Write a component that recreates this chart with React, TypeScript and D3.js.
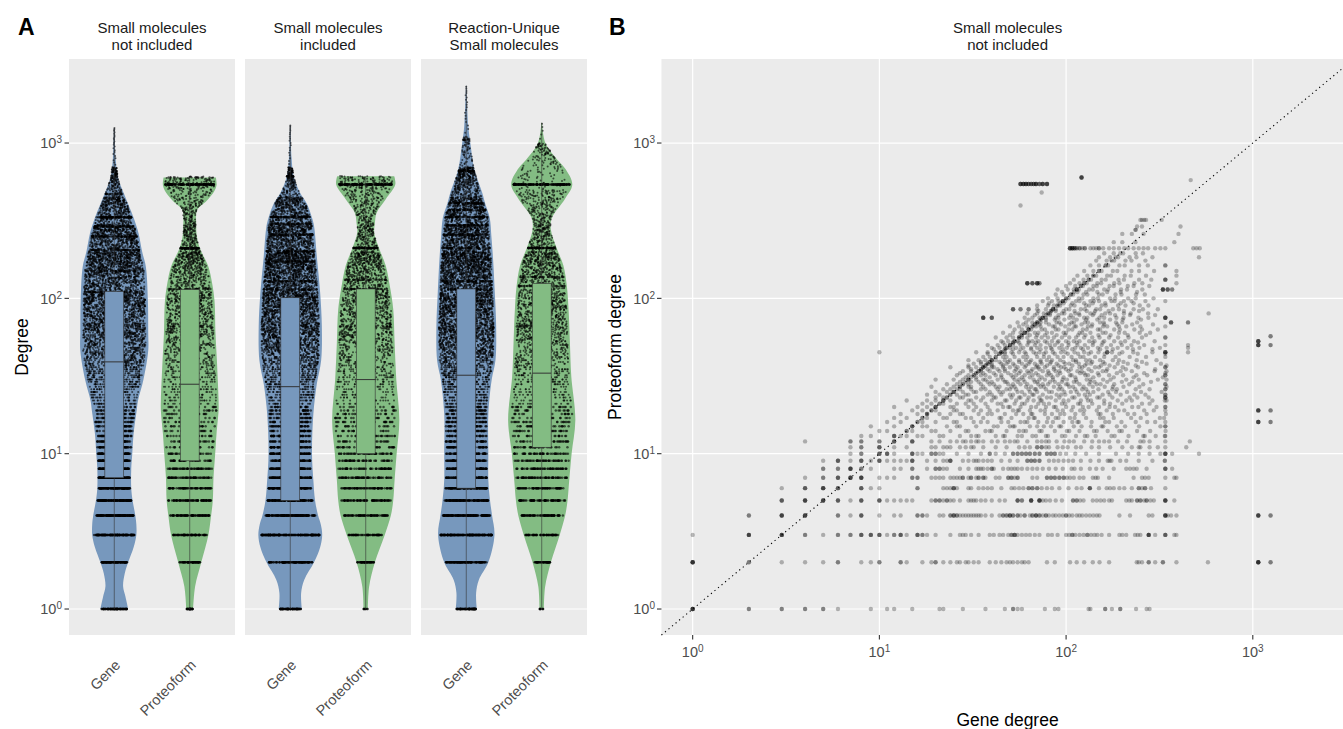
import React, { useEffect } from 'react';
import * as d3 from 'd3';

const facetTitles = [['Small molecules', 'not included'], ['Small molecules', 'included'], ['Reaction-Unique', 'Small molecules']];
const entityTypes = ['Gene', 'Proteoform'];
const degreeTicks = [1, 10, 100, 1000];
const tickExponents = ['0', '1', '2', '3'];
const scatterTitle = ['Small molecules', 'not included'];

// violin outlines: [degree, half width as share of the full violin width]
const violinGene1 = [[1, 0.41], [1.2, 0.33], [1.4, 0.26], [1.7, 0.31], [2, 0.41], [2.5, 0.57], [3, 0.65], [3.5, 0.65], [4, 0.62], [5, 0.54], [6, 0.5], [8, 0.5], [10, 0.53], [13.5, 0.57], [19, 0.66], [22, 0.7], [30, 0.86], [46, 1.0], [60, 1.0], [96, 0.99], [160, 0.93], [200, 0.82], [260, 0.72], [330, 0.57], [470, 0.29], [600, 0.11], [800, 0.04], [1250, 0.01]];
const violinProt1 = [[1, 0.1], [1.4, 0.16], [2, 0.34], [3, 0.55], [4, 0.63], [5, 0.68], [7, 0.7], [10, 0.75], [13.5, 0.79], [19, 0.85], [22, 0.85], [40, 0.8], [59, 0.76], [96, 0.73], [125, 0.66], [160, 0.55], [210, 0.3], [250, 0.21], [300, 0.19], [370, 0.22], [425, 0.5], [480, 0.7], [535, 0.79], [600, 0.77]];
const violinGene2 = [[1, 0.34], [1.27, 0.32], [1.54, 0.41], [2, 0.7], [2.5, 0.88], [3, 0.94], [3.5, 0.9], [4, 0.82], [5, 0.73], [6.75, 0.68], [10, 0.64], [18, 0.68], [28, 0.78], [40, 0.91], [66, 0.93], [109, 0.88], [178, 0.79], [292, 0.7], [330, 0.64], [406, 0.49], [478, 0.29], [612, 0.1], [800, 0.04], [1300, 0.01]];
const violinProt2 = [[1, 0.065], [1.39, 0.1], [2, 0.27], [3, 0.56], [4, 0.74], [5, 0.81], [6.75, 0.85], [10, 0.91], [16.4, 0.99], [30, 0.9], [52, 0.85], [85, 0.81], [120, 0.71], [162, 0.59], [211, 0.39], [264, 0.25], [305, 0.27], [355, 0.32], [435, 0.59], [540, 0.87], [612, 0.84]];
const violinGene3 = [[1, 0.31], [1.27, 0.29], [1.54, 0.37], [2, 0.65], [3, 0.83], [4, 0.76], [5, 0.7], [6.75, 0.65], [10, 0.65], [18, 0.65], [30, 0.75], [40, 0.86], [66, 0.88], [109, 0.84], [178, 0.79], [250, 0.74], [330, 0.69], [406, 0.56], [478, 0.47], [675, 0.24], [1000, 0.12], [1280, 0.06], [2340, 0.01]];
const violinProt3 = [[1, 0.065], [1.39, 0.1], [2, 0.27], [3, 0.53], [4, 0.69], [5, 0.76], [6.75, 0.81], [10, 0.88], [16.4, 0.99], [31.6, 0.87], [52, 0.83], [85, 0.79], [120, 0.74], [162, 0.64], [211, 0.44], [277, 0.27], [330, 0.3], [435, 0.68], [540, 0.9], [675, 0.71], [780, 0.46], [1000, 0.11], [1350, 0.01]];
const violinShapes = [[violinGene1, violinProt1], [violinGene2, violinProt2], [violinGene3, violinProt3]];

// box statistics: [min, q1, median, q3, max]
const boxGene = [[1, 7, 39, 111, 1250], [1, 5, 27, 101, 1300], [1, 6, 32, 115, 2340]];
const boxProt = [[1, 9, 28, 114, 600], [1, 10, 30, 115, 612], [1, 11, 33, 125, 1350]];

// points at degree 1..20
const lowGene = [
  [90, 100, 150, 140, 130, 120, 115, 110, 100, 95, 60, 56, 52, 48, 45, 42, 40, 38, 36, 34],
  [80, 115, 190, 150, 130, 120, 115, 110, 100, 95, 70, 64, 58, 54, 50, 48, 45, 42, 40, 38],
  [80, 115, 190, 150, 130, 120, 115, 110, 100, 95, 70, 64, 58, 54, 50, 48, 45, 42, 40, 38],
];
const lowProt = [
  [30, 55, 75, 80, 75, 62, 62, 55, 38, 35, 25, 24, 22, 21, 20, 19, 18, 18, 17, 17],
  [8, 45, 62, 75, 75, 68, 68, 62, 52, 50, 34, 32, 30, 28, 26, 25, 24, 23, 22, 21],
  [8, 45, 62, 75, 75, 68, 68, 62, 52, 50, 34, 32, 30, 28, 26, 25, 24, 23, 22, 21],
];
// [from, to, points per integer degree]
const spreadGene = [
  [[21, 40, 30], [40, 70, 32], [70, 110, 23], [110, 200, 13], [200, 300, 6.5], [300, 450, 2.6], [450, 700, 0.7], [700, 1260, 0.04]],
  [[21, 40, 32], [40, 70, 33], [70, 110, 24], [110, 200, 14], [200, 300, 7], [300, 450, 3], [450, 700, 0.7], [700, 1300, 0.03]],
  [[21, 40, 32], [40, 70, 33], [70, 110, 24], [110, 200, 14], [200, 300, 7], [300, 450, 3.4], [450, 700, 1.4], [700, 1100, 0.15], [1100, 2340, 0.015]],
];
const spreadProt = [
  [[21, 40, 15], [40, 70, 13], [70, 110, 9], [110, 200, 5], [200, 300, 1.6], [300, 500, 0.9], [500, 610, 1.2]],
  [[21, 40, 16], [40, 70, 14], [70, 110, 10], [110, 200, 5.5], [200, 300, 1.7], [300, 500, 1], [500, 615, 1.2]],
  [[21, 40, 16], [40, 70, 14], [70, 110, 10], [110, 200, 5.5], [200, 300, 1.8], [300, 500, 1.1], [500, 1000, 0.3], [1000, 1350, 0.015]],
];
// degrees shared by many entities: [degree, points]
const stackGene = [
  [[110, 40], [150, 30], [205, 40], [250, 45], [290, 40], [333, 70], [470, 15]],
  [[114, 40], [129, 35], [173, 35], [201, 40], [257, 40], [302, 40], [334, 70], [610, 12]],
  [[114, 35], [129, 35], [211, 40], [257, 40], [296, 40], [334, 60], [370, 40], [410, 40], [660, 35], [1050, 6]],
];
const stackProt = [
  [[540, 130], [210, 55], [115, 25], [66, 15], [600, 8]],
  [[540, 140], [211, 60], [115, 30], [132, 25], [66, 20]],
  [[540, 150], [211, 60], [120, 30], [137, 25], [66, 20]],
];

// scatter: [proteoform degree, gene degrees]
const scatterLow: [number, number[]][] = [
  [1, [1, 1, 1, 1, 1, 2, 2, 3, 3, 4, 4, 5, 5, 6, 9, 11, 12, 15, 21, 22, 28, 37, 47, 52, 52, 55, 58, 77, 87, 91, 132, 135, 162, 162, 176, 195, 195, 237, 270, 280]],
  [2, [1, 1, 1, 1, 1, 2, 2, 3, 4, 5, 6, 6, 8, 9, 10, 10, 13, 13, 14, 17, 19, 20, 20, 22, 24, 26, 27, 29, 30, 32, 34, 39, 42, 45, 48, 50, 52, 55, 58, 60, 63, 79, 87, 105, 114, 125, 139, 151, 170, 239, 245, 255, 277, 277, 300, 330, 330, 390, 575, 1070, 1070, 1070, 1070, 1070, 1245, 1245]],
  [3, [1, 2, 2, 2, 2, 3, 3, 3, 3, 4, 4, 5, 6, 6, 7, 7, 8, 8, 8, 9, 9, 9, 10, 10, 10, 11, 12, 12, 13, 13, 13, 14, 16, 16, 16, 17, 17, 18, 20, 24, 27, 28, 29, 31, 34, 39, 41, 44, 46, 49, 51, 51, 53, 53, 53, 55, 58, 61, 64, 68, 72, 80, 84, 90, 100, 104, 108, 108, 112, 118, 124, 130, 130, 136, 142, 147, 155, 170, 193, 200, 210, 234, 242, 250, 277, 277, 277, 277, 300, 340, 340, 340, 380, 390]],
  [4, [2, 2, 3, 3, 3, 3, 4, 4, 4, 4, 6, 6, 7, 8, 8, 8, 10, 12, 13, 16, 16, 17, 17, 18, 21, 22, 24, 24, 25, 25, 25, 26, 26, 27, 28, 29, 30, 31, 32, 33, 34, 35, 37, 40, 44, 46, 46, 48, 48, 50, 50, 50, 52, 52, 55, 55, 57, 60, 60, 64, 66, 66, 69, 69, 69, 72, 72, 75, 78, 78, 81, 85, 88, 92, 96, 100, 100, 104, 108, 114, 118, 122, 128, 134, 140, 146, 151, 193, 220, 277, 290, 340, 340, 340, 340, 350, 365, 390, 1070, 1070, 1070, 1070, 1245, 1245]],
  [5, [3, 3, 3, 4, 4, 4, 4, 5, 5, 5, 5, 6, 6, 6, 7, 8, 8, 8, 10, 10, 10, 11, 12, 13, 14, 15, 19, 20, 20, 21, 21, 22, 23, 23, 24, 25, 27, 30, 31, 32, 33, 35, 37, 40, 44, 47, 55, 55, 55, 58, 58, 65, 65, 65, 65, 72, 72, 72, 72, 75, 78, 82, 88, 95, 109, 109, 114, 114, 119, 124, 139, 146, 153, 160, 170, 176, 210, 218, 225, 240, 240, 250, 250, 262, 270, 270, 283, 295, 340, 340, 340, 340, 380]],
  [6, [3, 4, 4, 4, 5, 5, 5, 5, 6, 6, 6, 8, 8, 8, 9, 10, 16, 16, 22, 23, 24, 25, 25, 25, 26, 30, 31, 34, 36, 38, 40, 45, 51, 53, 56, 59, 63, 63, 66, 66, 70, 70, 74, 79, 84, 92, 103, 114, 121, 134, 134, 134, 150, 165, 172, 180, 193, 205, 225, 245, 245, 255, 265, 265, 285, 340]],
  [7, [4, 5, 5, 6, 6, 6, 7, 7, 7, 7, 8, 8, 8, 8, 10, 11, 12, 15, 15, 16, 16, 19, 20, 21, 22, 24, 25, 26, 27, 28, 28, 30, 31, 31, 33, 34, 34, 36, 36, 37, 42, 44, 49, 49, 51, 51, 53, 55, 55, 66, 70, 79, 79, 83, 83, 87, 87, 92, 92, 97, 97, 101, 105, 110, 118, 124, 139, 144, 148, 170, 230, 255, 265, 277, 340, 380, 390]],
  [8, [5, 5, 6, 6, 7, 7, 7, 7, 8, 8, 9, 12, 13, 15, 15, 18, 20, 20, 21, 21, 22, 23, 27, 30, 33, 34, 35, 36, 38, 40, 40, 41, 46, 49, 51, 53, 55, 58, 62, 66, 70, 75, 81, 88, 96, 107, 111, 120, 134, 145, 157, 180, 210, 220, 230, 239, 270, 340, 340, 340, 370]],
  [9, [5, 6, 6, 6, 7, 8, 8, 8, 9, 10, 10, 10, 11, 12, 13, 14, 15, 15, 15, 18, 20, 22, 23, 24, 24, 24, 28, 30, 32, 33, 34, 36, 38, 40, 45, 50, 55, 62, 62, 65, 65, 68, 68, 72, 72, 81, 86, 91, 97, 103, 109, 120, 135, 150, 167, 171, 175, 195, 210, 245, 290, 338, 338]],
  [10, [7, 8, 8, 10, 10, 10, 11, 11, 11, 12, 15, 15, 15, 16, 17, 19, 19, 20, 20, 21, 22, 26, 30, 35, 39, 39, 42, 47, 52, 52, 55, 55, 58, 58, 61, 61, 64, 64, 68, 68, 72, 72, 79, 79, 83, 83, 87, 87, 93, 100, 112, 128, 150, 185, 215, 245, 280, 320, 340, 340, 340, 340, 370, 515]],
  [11, [7, 8, 8, 10, 10, 10, 12, 14, 19, 20, 22, 23, 24, 27, 29, 31, 32, 36, 42, 48, 56, 60, 64, 70, 70, 74, 74, 78, 81, 90, 96, 102, 113, 120, 137, 150, 172, 200, 225, 245, 250, 280, 310, 340, 440]],
  [12, [4, 7, 7, 8, 8, 10, 10, 12, 12, 12, 15, 15, 15, 19, 21, 24, 26, 28, 29, 31, 33, 34, 36, 40, 43, 47, 50, 53, 55, 62, 70, 74, 78, 81, 89, 98, 104, 110, 125, 138, 150, 160, 170, 190, 212, 250, 260, 280, 340, 460]],
];
const scatterCloud: [number, number[]][] = [
  [13, [8, 9, 12, 12, 12, 13, 14, 16, 17, 21, 22, 27, 31, 33, 34, 42, 46, 47, 55, 58, 66, 69, 78, 80, 95, 99, 113, 126, 130, 144, 175, 182, 216, 259, 264, 302, 338, 340]],
  [14, [10, 11, 14, 14, 15, 19, 20, 24, 29, 30, 37, 39, 40, 48, 56, 59, 61, 72, 74, 87, 101, 104, 118, 141, 146, 167, 193, 199, 240, 282, 341]],
  [15, [9, 12, 15, 15, 15, 17, 18, 23, 26, 27, 33, 41, 43, 50, 52, 53, 64, 70, 76, 83, 92, 94, 110, 121, 136, 155, 158, 187, 207, 246, 320, 340, 340]],
  [16, [11, 13, 16, 16, 17, 20, 25, 26, 32, 35, 38, 45, 49, 57, 60, 62, 71, 79, 85, 97, 108, 115, 117, 137, 162, 170, 198, 236, 272, 300, 340, 1070, 1070, 1070, 1070, 1245, 1245]],
  [17, [12, 14, 17, 17, 18, 22, 23, 29, 31, 36, 44, 45, 51, 63, 67, 68, 80, 88, 91, 105, 111, 128, 152, 159, 180, 223, 251, 318, 335]],
  [18, [13, 16, 18, 18, 18, 21, 24, 27, 28, 34, 38, 40, 47, 54, 59, 65, 66, 77, 84, 93, 98, 112, 124, 149, 153, 178, 214, 232, 270, 342]],
  [19, [15, 17, 19, 19, 20, 25, 26, 32, 35, 39, 43, 52, 55, 56, 64, 73, 77, 90, 96, 107, 119, 125, 146, 165, 191, 205, 262, 295, 340, 1070, 1070, 1070, 1070, 1245, 1245]],
  [20, [12, 16, 18, 20, 20, 20, 24, 25, 30, 33, 38, 46, 49, 50, 57, 65, 69, 78, 86, 88, 100, 109, 123, 132, 150, 171, 183, 226, 244, 305, 340, 340]],
  [21, [17, 19, 21, 21, 22, 26, 29, 32, 37, 43, 45, 53, 58, 60, 71, 76, 81, 95, 99, 116, 119, 138, 160, 172, 200, 255, 280]],
  [22, [14, 18, 20, 22, 22, 22, 24, 30, 31, 35, 40, 47, 48, 54, 62, 67, 73, 74, 88, 97, 103, 120, 131, 136, 160, 189, 210, 225, 290, 338, 345]],
  [23, [20, 22, 23, 23, 27, 28, 33, 36, 41, 42, 51, 56, 57, 63, 72, 79, 83, 92, 108, 111, 129, 147, 151, 177, 219, 241, 277, 340, 340, 340]],
  [24, [18, 21, 24, 24, 26, 29, 30, 38, 40, 45, 50, 52, 60, 66, 67, 75, 89, 94, 99, 117, 126, 134, 157, 171, 196, 232, 266, 340, 340]],
  [25, [20, 23, 25, 25, 25, 28, 32, 33, 39, 44, 46, 55, 58, 64, 70, 81, 84, 98, 106, 114, 131, 140, 168, 185, 212, 252, 325]],
  [26, [22, 24, 26, 27, 31, 35, 37, 43, 48, 50, 54, 63, 68, 69, 78, 91, 95, 112, 122, 128, 149, 177, 187, 236, 280, 340, 340]],
  [27, [19, 25, 27, 27, 30, 31, 36, 42, 44, 51, 53, 61, 65, 73, 76, 86, 93, 104, 109, 124, 139, 161, 178, 203, 247, 345]],
  [28, [23, 26, 28, 28, 30, 35, 39, 41, 49, 52, 57, 62, 71, 75, 80, 91, 100, 102, 118, 133, 146, 153, 181, 218, 259, 340, 340]],
  [29, [27, 29, 31, 34, 38, 40, 47, 48, 55, 60, 68, 70, 82, 87, 95, 110, 114, 135, 142, 166, 199, 226, 285]],
  [30, [20, 25, 28, 30, 30, 30, 33, 36, 37, 43, 46, 53, 56, 59, 67, 72, 77, 85, 96, 101, 113, 129, 135, 158, 173, 210, 245, 310, 345]],
  [31, [29, 31, 33, 39, 45, 52, 58, 64, 74, 85, 97, 112, 140, 180, 230, 330]],
  [32, [26, 30, 32, 32, 35, 37, 42, 45, 51, 54, 60, 66, 71, 79, 83, 90, 105, 107, 127, 131, 150, 170, 202, 238, 272, 340, 340]],
  [33, [27, 33, 33, 36, 41, 49, 56, 63, 69, 81, 93, 119, 125, 148, 187, 262, 340]],
  [34, [28, 31, 34, 34, 35, 39, 44, 47, 53, 57, 62, 65, 75, 80, 88, 92, 103, 115, 121, 137, 157, 164, 196, 225, 298, 345]],
  [35, [31, 35, 35, 38, 43, 47, 54, 66, 72, 86, 100, 106, 132, 166, 209, 300]],
  [36, [24, 30, 33, 36, 36, 36, 40, 41, 46, 50, 55, 60, 69, 71, 77, 86, 94, 98, 118, 122, 143, 150, 182, 201, 243, 340, 340]],
  [37, [30, 37, 37, 40, 46, 53, 61, 70, 79, 91, 108, 126, 154, 171, 236, 345]],
  [38, [32, 35, 38, 38, 40, 45, 48, 52, 58, 63, 68, 74, 82, 89, 99, 104, 117, 129, 136, 161, 189, 214, 270, 322]],
  [39, [35, 39, 39, 44, 49, 56, 64, 73, 83, 97, 113, 138, 158, 203, 255]],
  [40, [30, 34, 37, 40, 40, 40, 42, 47, 50, 56, 61, 65, 73, 79, 84, 93, 109, 113, 128, 134, 152, 178, 192, 239, 305]],
  [42, [36, 39, 42, 42, 46, 48, 53, 59, 62, 70, 76, 81, 90, 97, 107, 119, 124, 143, 160, 184, 219, 268, 340]],
  [44, [38, 44, 44, 47, 52, 61, 69, 76, 87, 102, 116, 132, 161, 193, 242, 340]],
  [45, [10, 33, 38, 42, 45, 45, 45, 47, 51, 56, 60, 67, 72, 78, 85, 94, 99, 111, 125, 136, 149, 166, 166, 166, 176, 200, 229, 290, 340, 340, 340, 340, 450]],
  [47, [41, 47, 47, 52, 57, 65, 73, 84, 96, 108, 123, 152, 178, 228, 290]],
  [48, [40, 44, 48, 48, 50, 54, 59, 65, 70, 78, 83, 92, 101, 112, 120, 131, 148, 165, 189, 213, 247, 318, 450]],
  [50, [38, 43, 47, 50, 50, 50, 52, 57, 62, 68, 73, 82, 87, 95, 103, 115, 126, 139, 155, 174, 199, 224, 262, 340, 450, 1070, 1070, 1070, 1070, 1245, 1245]],
  [52, [46, 52, 52, 56, 63, 69, 79, 90, 103, 114, 139, 157, 196, 243]],
  [53, [45, 49, 53, 53, 55, 63, 66, 71, 77, 84, 91, 100, 110, 118, 133, 142, 160, 181, 207, 231, 298, 1070, 1070, 1070, 1070]],
  [56, [42, 48, 52, 56, 56, 56, 58, 62, 69, 74, 80, 86, 95, 104, 113, 125, 138, 151, 170, 190, 216, 255, 340, 340]],
  [57, [1245, 1245]],
  [58, [50, 58, 58, 64, 70, 77, 89, 99, 116, 127, 149, 173, 214, 268]],
  [60, [46, 52, 57, 60, 60, 60, 62, 68, 71, 79, 84, 97, 100, 118, 122, 135, 157, 163, 192, 206, 248, 282]],
  [63, [53, 58, 63, 63, 63, 65, 74, 77, 88, 91, 103, 108, 123, 129, 148, 152, 181, 194, 232, 255, 310]],
  [66, [50, 56, 62, 66, 66, 69, 73, 85, 87, 99, 111, 113, 131, 137, 158, 166, 192, 210, 250, 340]],
  [68, [59, 68, 68, 72, 81, 94, 104, 121, 138, 160, 188, 226, 292]],
  [70, [55, 61, 66, 70, 70, 70, 73, 78, 89, 92, 107, 110, 126, 131, 152, 159, 185, 200, 240, 365, 365, 365, 450, 450]],
  [73, [63, 73, 73, 78, 87, 98, 114, 128, 147, 172, 201, 252]],
  [75, [36, 36, 36, 36, 40, 40, 40, 60, 66, 72, 75, 75, 75, 78, 88, 91, 104, 109, 125, 130, 151, 160, 186, 203, 244, 276, 340, 340, 340, 340]],
  [78, [68, 78, 82, 91, 106, 118, 139, 155, 183, 220, 300]],
  [80, [62, 70, 76, 80, 80, 82, 95, 98, 112, 117, 135, 141, 162, 172, 204, 222, 275, 580]],
  [83, [71, 83, 83, 88, 97, 111, 129, 143, 169, 204, 246]],
  [85, [52, 52, 52, 57, 57, 63, 63, 70, 78, 85, 85, 85, 88, 100, 104, 120, 126, 145, 152, 178, 192, 230, 258, 310]],
  [90, [70, 80, 86, 90, 90, 93, 106, 111, 128, 133, 155, 163, 190, 208, 248, 276]],
  [93, [81, 93, 97, 108, 125, 139, 162, 196, 230]],
  [96, [75, 84, 91, 96, 96, 96, 99, 113, 118, 135, 141, 150, 175, 182, 204, 224, 266, 340]],
  [100, [80, 90, 100, 100, 103, 117, 122, 140, 148, 172, 183, 215, 236, 294]],
  [106, [88, 97, 106, 106, 109, 124, 130, 150, 157, 184, 198, 237, 264]],
  [110, [95, 110, 115, 128, 147, 166, 196, 240]],
  [114, [90, 102, 110, 114, 114, 114, 117, 133, 139, 160, 168, 197, 212, 256, 330, 330, 330, 330, 350, 350, 350, 370, 370]],
  [120, [100, 112, 120, 120, 123, 140, 146, 171, 180, 214, 230, 279]],
  [125, [62, 62, 62, 62, 66, 66, 66, 70, 70, 70, 70, 72, 72, 105, 118, 125, 125, 129, 147, 154, 181, 193, 232, 256, 390]],
  [132, [110, 124, 132, 132, 136, 155, 163, 191, 204, 246, 286, 340, 340, 340]],
  [140, [115, 130, 140, 140, 145, 166, 174, 206, 222, 268, 390]],
  [150, [125, 140, 150, 150, 155, 178, 188, 224, 246, 296, 390]],
  [163, [135, 150, 163, 163, 168, 193, 206, 246, 274, 340, 340]],
  [175, [145, 165, 175, 181, 208, 224, 266]],
  [184, [150, 172, 184, 190, 219, 238, 290, 515]],
  [195, [160, 180, 195, 202, 236, 258]],
  [210, [105, 105, 105, 105, 108, 108, 108, 108, 111, 111, 111, 114, 114, 118, 118, 122, 126, 126, 135, 140, 145, 150, 150, 158, 170, 180, 192, 205, 215, 230, 245, 260, 275, 300, 320, 340, 480, 500, 520]],
  [230, [180, 200, 235, 380]],
  [260, [200, 225, 260, 400]],
  [276, [235, 236]],
  [290, [240, 255, 410]],
  [320, [250, 255, 262, 268, 325]],
  [396, [57]],
  [480, [74]],
  [545, [57, 57, 57, 57, 59, 59, 59, 59, 61, 61, 61, 61, 63, 63, 63, 65, 65, 65, 67, 67, 67, 69, 69, 69, 69, 72, 72, 72, 75, 75, 75, 75, 79, 79, 79, 79]],
  [577, [465]],
  [600, [121, 121, 121, 121]],
];

const W = 1343;
const H = 729;
const FONT = 'Liberation Sans, Arial, Helvetica, sans-serif';
const panelTop = 59;
const panelBottom = 635;
const facetLeft = [69, 245, 421];
const facetWidth = 166;
const domainLo = 0.6804;
const domainHi = 3475;
const fillByType = ['#7798BD', '#83BC83'];

const y = d3.scaleLog().domain([domainLo, domainHi]).range([panelBottom, panelTop]);
const xB = d3.scaleLog().domain([domainLo, domainHi]).range([661.45, 1353.8]);
const pos = d3.scalePoint().domain(entityTypes).range([0, facetWidth]).padding(0.6);
const unit = pos.step();
const halfMax = 0.45 * unit;

function widthAt(profile: number[][], d: number) {
  const ld = Math.log10(d);
  for (let i = 1; i < profile.length; i++) {
    const a = profile[i - 1];
    const b = profile[i];
    if (d <= b[0]) {
      const t = (ld - Math.log10(a[0])) / (Math.log10(b[0]) - Math.log10(a[0]));
      return a[1] + (b[1] - a[1]) * Math.max(0, Math.min(1, t));
    }
  }
  return profile[profile.length - 1][1];
}

// each entry: [degree, 1 if part of a stacked row]
function degreeList(low: number[], spread: number[][], stacks: number[][]) {
  const out: number[][] = [];
  low.forEach((n, i) => { for (let k = 0; k < n; k++) out.push([i + 1, 1]); });
  spread.forEach(([lo, hi, per]) => {
    let acc = 0;
    for (let d = lo; d < hi; d++) {
      acc += per;
      while (acc >= 1) { out.push([d, 0]); acc -= 1; }
    }
  });
  stacks.forEach(([d, n]) => { for (let k = 0; k < n; k++) out.push([d, 1]); });
  return out;
}

// sideways spread of the dots inside a violin (sina-like), fixed per index
const spreadOffset = (k: number, s: number) => {
  const v = Math.sin(k * 12.9898 + s * 78.233) * 43758.5453;
  return v - Math.floor(v);
};

const superLabel = (e: string) => (
  <>10<tspan dy="-0.48em" fontSize="10">{e}</tspan></>
);

const Violin = ({ fi, ti }: { fi: number; ti: number }) => {
  const profile = violinShapes[fi][ti];
  const cx = facetLeft[fi] + (pos(entityTypes[ti]) as number);
  const area = d3.area<number[]>()
    .y((d) => y(d[0]))
    .x0((d) => cx - d[1] * halfMax)
    .x1((d) => cx + d[1] * halfMax)
    .curve(d3.curveCatmullRom.alpha(0.5));
  const degrees = ti === 0
    ? degreeList(lowGene[fi], spreadGene[fi], stackGene[fi])
    : degreeList(lowProt[fi], spreadProt[fi], stackProt[fi]);
  const seed = fi * 2 + ti + 1;
  const stats = ti === 0 ? boxGene[fi] : boxProt[fi];
  const bh = 0.125 * unit;
  return (
    <g>
      <path d={area(profile) as string} fill={fillByType[ti]} />
      <g fill="black" fillOpacity={0.6}>
        {degrees.map(([d, stacked], k) => {
          const u = spreadOffset(k + 1, seed);
          const w = widthAt(profile, d) * halfMax * 0.92;
          return <circle key={k} cx={cx + (2 * u - 1) * w} cy={y(d)} r={stacked ? 1.25 : 1} />;
        })}
      </g>
      <line x1={cx} x2={cx} y1={y(stats[0])} y2={y(stats[4])} stroke="#333" strokeWidth={0.6} />
      <rect x={cx - bh} width={2 * bh} y={y(stats[3])} height={y(stats[1]) - y(stats[3])}
        fill={fillByType[ti]} stroke="#333" strokeWidth={0.6} />
      <line x1={cx - bh} x2={cx + bh} y1={y(stats[2])} y2={y(stats[2])} stroke="#333" strokeWidth={1} />
    </g>
  );
};

export default function App() {
  useEffect(() => {
    document.body.style.margin = '0';
  }, []);

  const scatterPoints: number[][] = [];
  [...scatterLow, ...scatterCloud].forEach(([p, genes]) => genes.forEach((g) => scatterPoints.push([g, p])));

  return (
    <svg width={W} height={H} style={{ display: 'block', fontFamily: FONT }}>
      <rect width={W} height={H} fill="white" />
      <text x={18} y={35} fontSize={23} fontWeight="bold">A</text>
      <text x={609} y={35} fontSize={23} fontWeight="bold">B</text>

      {facetLeft.map((fx, fi) => (
        <g key={`facet-${fi}`}>
          <text x={fx + facetWidth / 2} textAnchor="middle" fontSize={15} fill="#1A1A1A">
            <tspan x={fx + facetWidth / 2} y={33}>{facetTitles[fi][0]}</tspan>
            <tspan x={fx + facetWidth / 2} y={50}>{facetTitles[fi][1]}</tspan>
          </text>
          <rect x={fx} y={panelTop} width={facetWidth} height={panelBottom - panelTop} fill="#EBEBEB" />
          {degreeTicks.map((t) => (
            <line key={t} x1={fx} x2={fx + facetWidth} y1={y(t)} y2={y(t)} stroke="white" strokeWidth={1.2} />
          ))}
          <Violin fi={fi} ti={0} />
          <Violin fi={fi} ti={1} />
          {entityTypes.map((name) => {
            const tx = fx + (pos(name) as number) + 7;
            return (
              <text key={name} transform={`translate(${tx},666) rotate(-45)`} textAnchor="end" fontSize={14.5} fill="#4D4D4D">{name}</text>
            );
          })}
        </g>
      ))}

      <g>
        {degreeTicks.map((t, i) => (
          <g key={`ya-${t}`}>
            <line x1={64.5} x2={69} y1={y(t)} y2={y(t)} stroke="#333" strokeWidth={1.1} />
            <text x={62} y={y(t)} dy="0.36em" textAnchor="end" fontSize={14.5} fill="#4D4D4D">{superLabel(tickExponents[i])}</text>
          </g>
        ))}
        <text transform={`translate(28,${(panelTop + panelBottom) / 2}) rotate(-90)`} textAnchor="middle" fontSize={17.5}>Degree</text>
      </g>

      <g>
        <text x={1007.6} textAnchor="middle" fontSize={15} fill="#1A1A1A">
          <tspan x={1007.6} y={33}>{scatterTitle[0]}</tspan>
          <tspan x={1007.6} y={50}>{scatterTitle[1]}</tspan>
        </text>
        <rect x={xB.range()[0]} y={panelTop} width={xB.range()[1] - xB.range()[0]} height={panelBottom - panelTop} fill="#EBEBEB" />
        {degreeTicks.map((t) => (
          <g key={`gb-${t}`}>
            <line x1={xB.range()[0]} x2={xB.range()[1]} y1={y(t)} y2={y(t)} stroke="white" strokeWidth={1.2} />
            <line x1={xB(t)} x2={xB(t)} y1={panelTop} y2={panelBottom} stroke="white" strokeWidth={1.2} />
          </g>
        ))}
        <g fill="black" fillOpacity={0.27}>
          {scatterPoints.map(([g, p], i) => (
            <circle key={i} cx={xB(g)} cy={y(p)} r={2.2} />
          ))}
        </g>
        <line x1={xB(domainLo)} y1={y(domainLo)} x2={xB(domainHi)} y2={y(domainHi)}
          stroke="black" strokeWidth={1.1} strokeDasharray="1.2 3.4" />
        {degreeTicks.map((t, i) => (
          <g key={`yb-${t}`}>
            <line x1={657} x2={661.45} y1={y(t)} y2={y(t)} stroke="#333" strokeWidth={1.1} />
            <text x={655} y={y(t)} dy="0.36em" textAnchor="end" fontSize={14.5} fill="#4D4D4D">{superLabel(tickExponents[i])}</text>
            <line x1={xB(t)} x2={xB(t)} y1={panelBottom} y2={panelBottom + 4.5} stroke="#333" strokeWidth={1.1} />
            <text x={xB(t)} y={657} textAnchor="middle" fontSize={14.5} fill="#4D4D4D">{superLabel(tickExponents[i])}</text>
          </g>
        ))}
        <text transform={`translate(621,${(panelTop + panelBottom) / 2}) rotate(-90)`} textAnchor="middle" fontSize={17.5}>Proteoform degree</text>
        <text x={1007.6} y={726} textAnchor="middle" fontSize={17.5}>Gene degree</text>
      </g>
    </svg>
  );
}
